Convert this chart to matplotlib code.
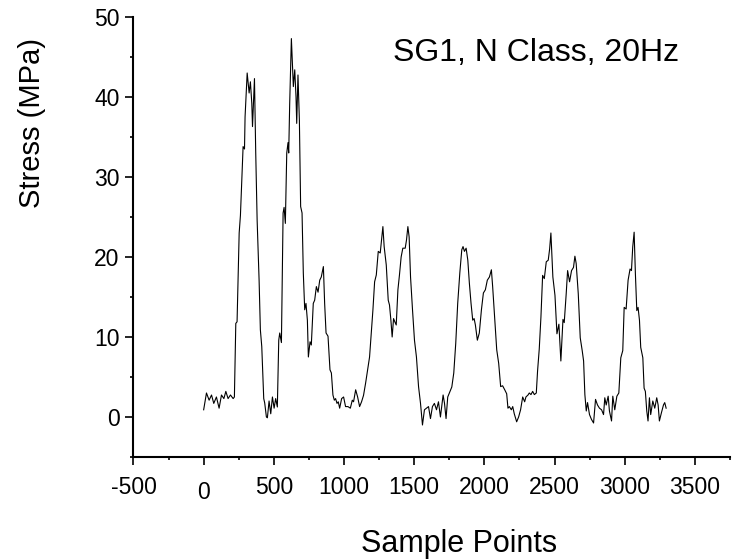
import matplotlib
matplotlib.use('Agg')
import matplotlib.pyplot as plt
import matplotlib.transforms as mtransforms
from matplotlib.ticker import MultipleLocator

# strain gauge record
sample_points = [
    0, 20, 39, 56, 72, 91, 110, 127, 144, 158, 174, 191, 210, 219, 229, 238,
    253, 262, 281, 291, 295, 310, 324, 333, 343, 348, 362, 371, 381, 395, 404,
    414, 428, 435, 447, 454, 466, 478, 490, 502, 513, 525, 535, 542, 554, 566,
    573, 582, 592, 601, 606, 613, 625, 639, 649, 658, 663, 672, 682, 691, 701,
    710, 720, 729, 739, 746, 758, 767, 781, 791, 803, 815, 827, 838, 853, 862,
    872, 886, 900, 910, 921, 931, 940, 950, 959, 969, 983, 997, 1011, 1028,
    1045, 1059, 1068, 1083, 1097, 1111, 1125, 1139, 1154, 1168, 1182, 1196,
    1206, 1218, 1230, 1244, 1258, 1267, 1277, 1286, 1301, 1315, 1324, 1334,
    1343, 1353, 1362, 1372, 1384, 1395, 1407, 1419, 1436, 1445, 1455, 1464,
    1474, 1488, 1502, 1516, 1531, 1545, 1559, 1573, 1588, 1602, 1616, 1630,
    1644, 1659, 1673, 1687, 1706, 1716, 1727, 1739, 1753, 1768, 1782, 1796,
    1810, 1825, 1839, 1848, 1858, 1870, 1882, 1893, 1905, 1917, 1927, 1936,
    1950, 1964, 1979, 1993, 2007, 2021, 2036, 2050, 2059, 2074, 2088, 2102,
    2116, 2130, 2145, 2159, 2168, 2178, 2192, 2202, 2213, 2230, 2244, 2258,
    2273, 2287, 2296, 2311, 2320, 2332, 2344, 2356, 2370, 2379, 2391, 2403,
    2415, 2427, 2441, 2455, 2465, 2474, 2488, 2503, 2517, 2531, 2545, 2560,
    2569, 2583, 2593, 2607, 2621, 2635, 2645, 2654, 2669, 2683, 2697, 2707,
    2716, 2726, 2735, 2749, 2763, 2778, 2792, 2806, 2820, 2835, 2849, 2858,
    2868, 2882, 2891, 2906, 2915, 2929, 2944, 2958, 2972, 2986, 2996, 3010,
    3024, 3038, 3048, 3057, 3067, 3076, 3086, 3095, 3105, 3114, 3129, 3138,
    3147, 3157, 3166, 3176, 3185, 3200, 3214, 3228, 3238, 3247, 3261, 3276,
    3285, 3295,
]
stress_mpa = [
    0.9, 3.0, 2.1, 2.75, 1.7, 2.5, 1.1, 2.75, 2.3, 3.2, 2.3, 2.75, 2.3, 2.5,
    11.7, 11.9, 23.0, 25.2, 33.8, 33.5, 37.5, 43.0, 40.5, 41.9, 39.2, 36.3,
    42.3, 33.0, 24.6, 17.1, 10.9, 8.8, 2.3, 1.75, 0.0, -0.1, 2.0, 0.4, 2.5,
    1.1, 2.3, 1.25, 9.6, 10.5, 9.3, 25.5, 26.2, 24.2, 33.0, 34.3, 33.0, 39.2,
    47.3, 41.3, 43.4, 40.0, 36.7, 42.75, 37.1, 26.3, 25.5, 18.0, 13.4, 14.2,
    12.1, 7.5, 9.4, 9.0, 14.2, 14.6, 16.3, 15.6, 17.1, 17.5, 18.8, 14.2, 10.5,
    10.1, 5.9, 5.5, 2.75, 2.1, 2.3, 1.7, 1.9, 1.1, 2.3, 2.5, 1.3, 1.3, 1.1,
    2.1, 1.9, 3.4, 2.5, 1.3, 1.9, 2.7, 4.25, 5.9, 7.5, 10.9, 13.4, 16.9,
    17.75, 20.7, 20.5, 22.1, 23.8, 21.3, 19.0, 14.6, 14.0, 12.1, 10.0, 12.3,
    11.9, 11.5, 15.9, 17.75, 20.0, 21.1, 21.1, 22.1, 23.8, 22.5, 17.5, 13.4,
    9.6, 7.5, 3.8, 1.7, -1.0, 0.9, 1.1, 1.3, -0.2, 1.3, 1.7, 0.9, 1.9, 0.0,
    2.75, 1.7, -0.2, 2.5, 3.1, 3.75, 5.5, 9.2, 14.2, 18.0, 20.9, 21.3, 20.7,
    21.1, 19.6, 16.75, 14.2, 12.1, 12.3, 11.5, 9.6, 10.5, 13.4, 15.5, 15.9,
    17.1, 17.5, 18.4, 16.3, 12.1, 8.4, 6.7, 3.8, 3.9, 3.4, 2.9, 1.1, 1.3, 0.9,
    1.3, 0.4, -0.6, 0.0, 0.9, 2.5, 1.9, 2.5, 2.75, 3.0, 2.8, 3.2, 2.8, 3.0,
    5.75, 8.5, 12.5, 17.7, 17.3, 19.4, 19.6, 21.0, 23.0, 17.5, 15.2, 10.4,
    11.6, 7.0, 12.2, 11.8, 15.4, 18.3, 16.9, 18.3, 18.7, 20.1, 19.2, 15.4, 9.9,
    8.3, 7.0, 2.8, 0.75, 1.8, 0.3, -0.3, -0.75, 2.2, 1.5, 1.1, 0.9, 0.3, 2.4,
    1.5, 2.6, 0.75, -0.5, 2.6, 0.9, 2.6, 3.0, 7.4, 8.3, 13.7, 13.5, 17.1,
    18.5, 18.3, 21.25, 23.1, 17.9, 13.3, 13.7, 12.1, 8.7, 7.4, 3.6, 3.2, 0.75,
    -0.5, 2.4, 0.3, 2.0, 1.1, 2.4, 1.5, -0.5, 0.5, 1.5, 1.8, 1.1,
]
title_text = 'SG1, N Class, 20Hz'

plt.rcParams['font.family'] = ['Liberation Sans', 'DejaVu Sans']
plt.rcParams['axes.unicode_minus'] = False

fig = plt.figure(figsize=(7.33, 5.59), dpi=100)
ax = fig.add_axes([0.1821, 0.1825, 0.8138, 0.7871])

ax.plot(sample_points, stress_mpa, color='black', lw=0.8)

ax.set_xlim(-500, 3750)
ax.set_ylim(-5, 50)
ax.xaxis.set_major_locator(MultipleLocator(500))
ax.xaxis.set_minor_locator(MultipleLocator(250))
ax.yaxis.set_major_locator(MultipleLocator(10))
ax.yaxis.set_minor_locator(MultipleLocator(5))

for side in ('top', 'right'):
  ax.spines[side].set_visible(False)
for side in ('left', 'bottom'):
  ax.spines[side].set_linewidth(1.5)

ax.tick_params(which='major', length=5.5, width=1.2, direction='out',
               labelsize=16.5)
ax.tick_params(which='minor', length=2.5, width=1.2, direction='out')
ax.tick_params(axis='x', which='major', pad=8)
ax.tick_params(axis='y', which='major', pad=4.5)

ax.set_xlabel('Sample Points', fontsize=22)
ax.set_ylabel('Stress (MPa)', fontsize=21)
ax.xaxis.set_label_coords(0.546, -0.163)
ax.yaxis.set_label_coords(-0.147, 0.76)

ax.text(0.435, 0.9, title_text, transform=ax.transAxes, fontsize=23,
        ha='left', va='baseline')

# the "0" label sits a little lower than its neighbours in the original
fig.canvas.draw()
shift = mtransforms.ScaledTranslation(0, -4 / 72, fig.dpi_scale_trans)
for lab in ax.get_xticklabels():
  if lab.get_text() == '0':
    lab.set_transform(lab.get_transform() + shift)

fig.savefig('out.png', dpi=100)
